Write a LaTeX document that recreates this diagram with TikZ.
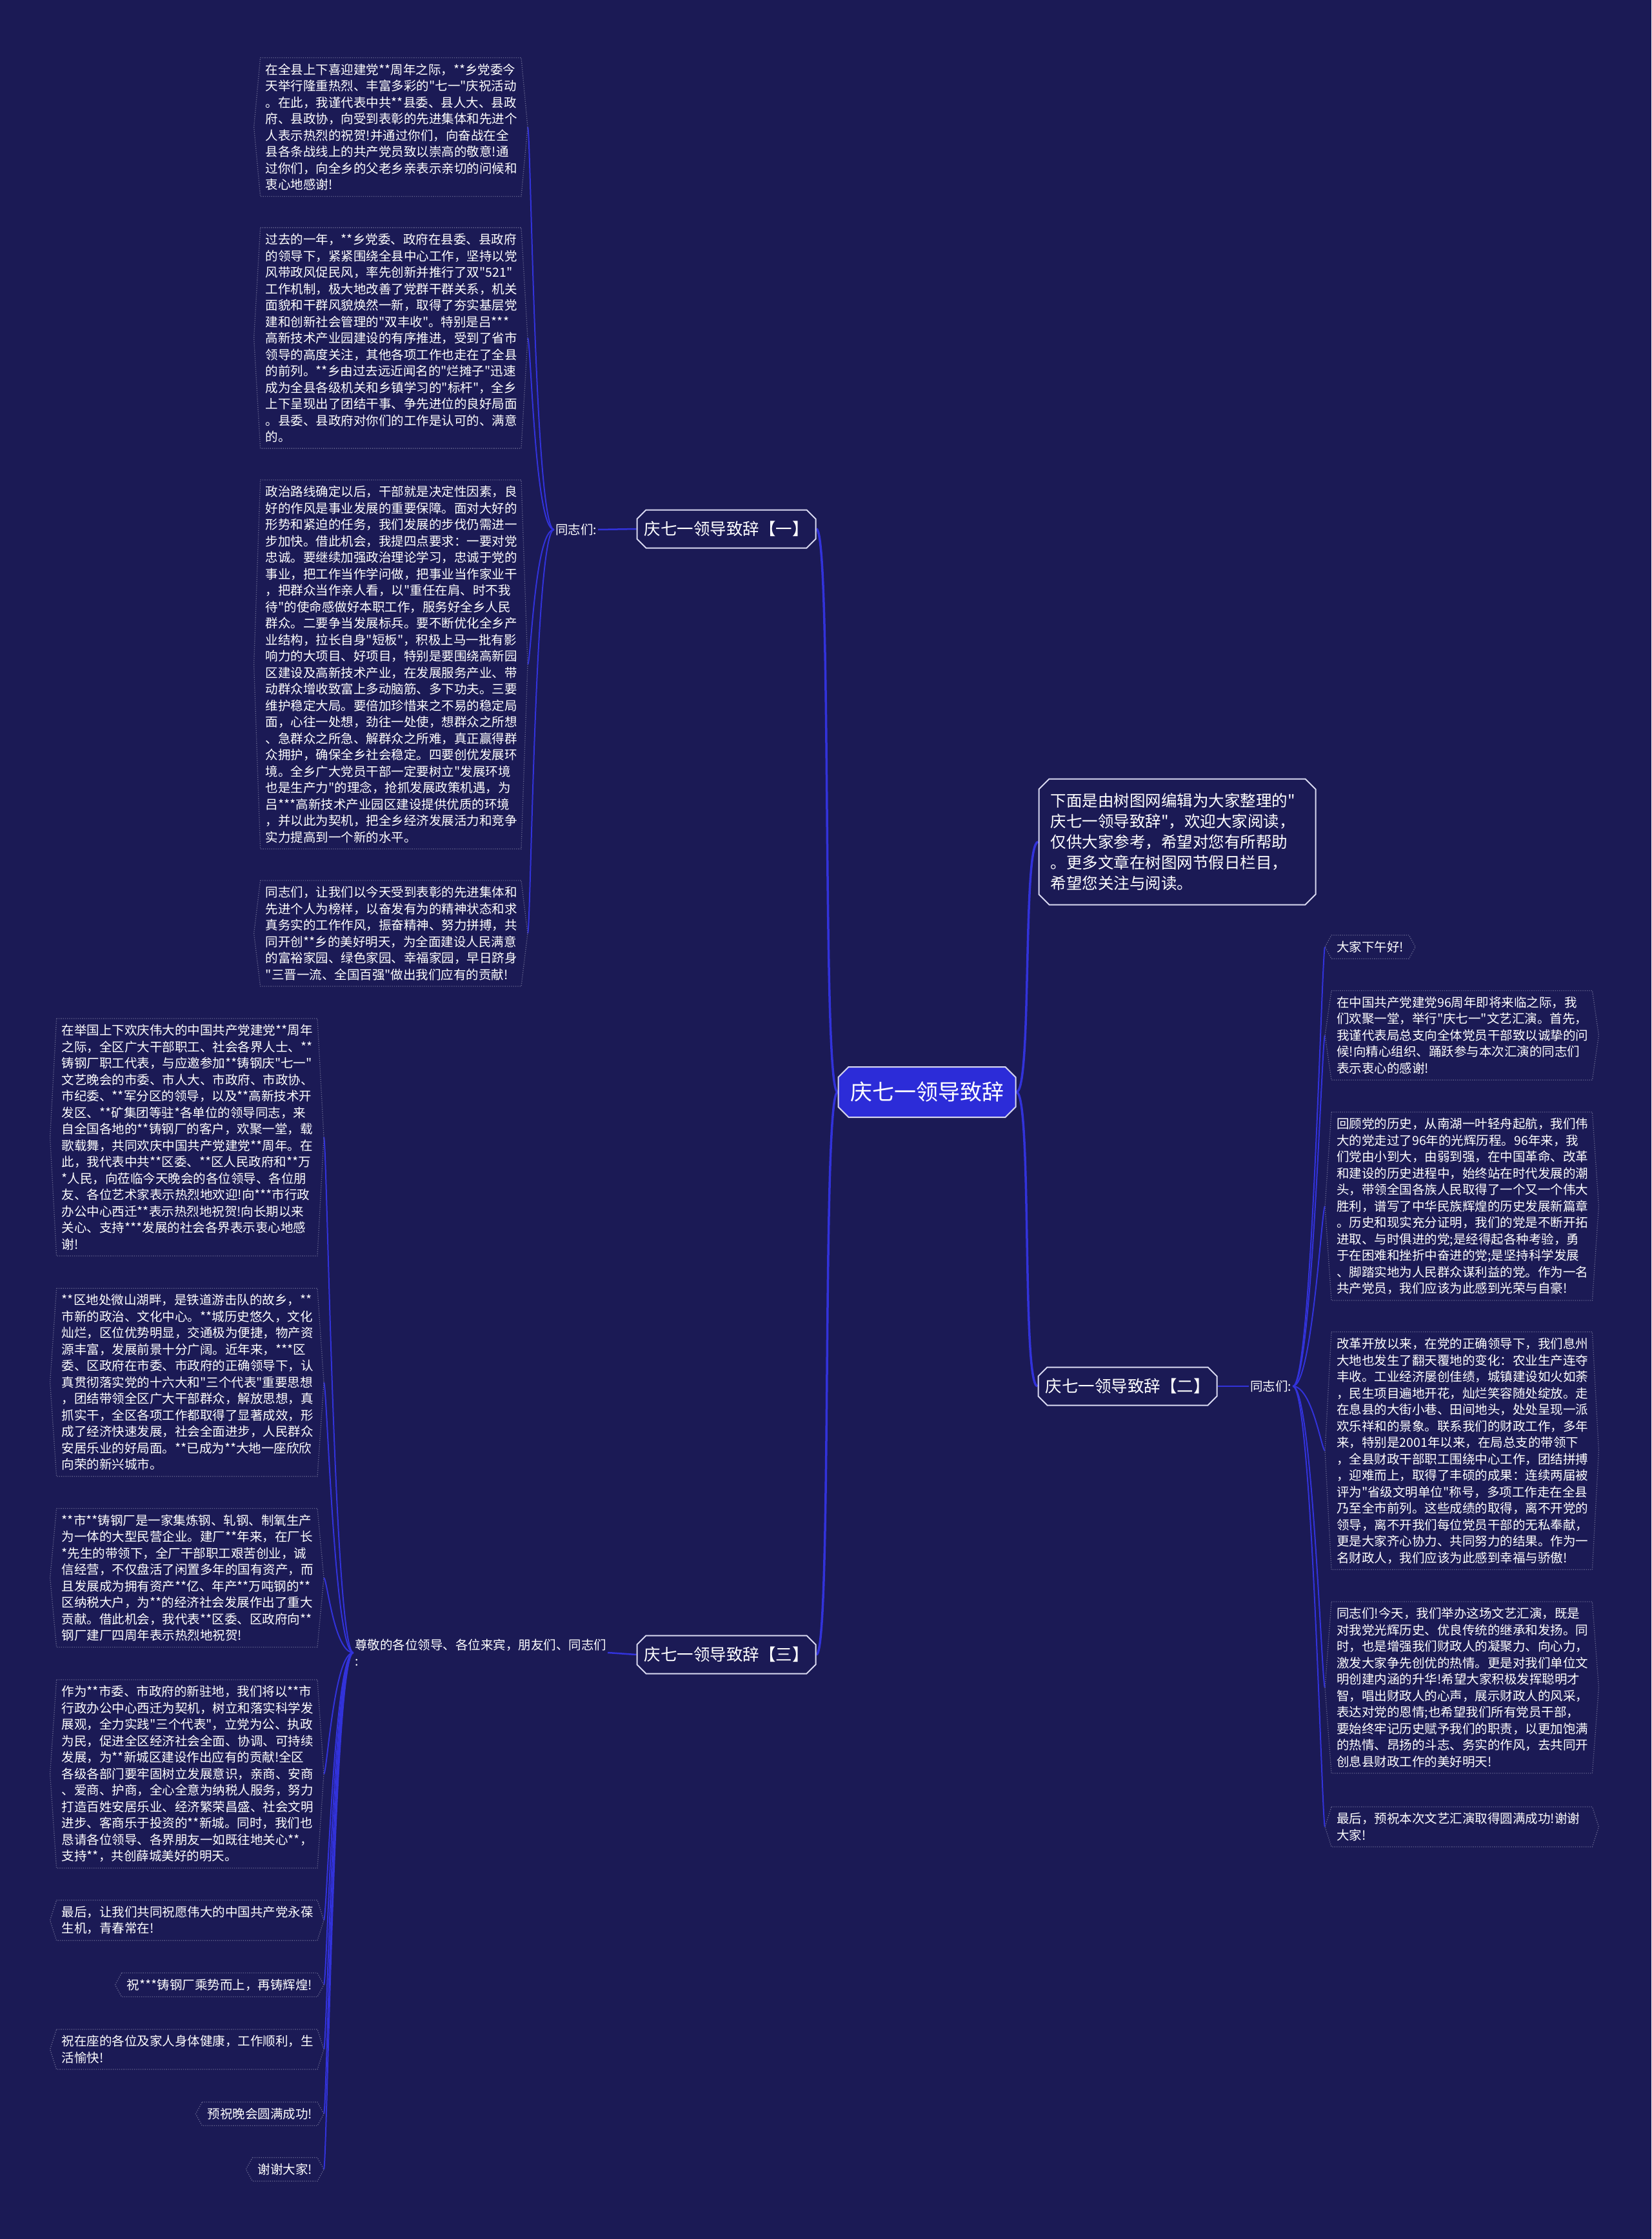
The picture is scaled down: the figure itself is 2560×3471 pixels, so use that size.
\documentclass[tikz,border=0pt]{standalone}
\usepackage{fontspec}
\newfontfamily\cjk{Noto Sans CJK SC}
\usetikzlibrary{shapes.misc}
\definecolor{bgc}{HTML}{1B1A55}
\definecolor{linec}{HTML}{3232DA}
\definecolor{centerfill}{HTML}{2C2CD8}
\definecolor{dotc}{HTML}{62628C}
\definecolor{edgec}{HTML}{D8D8F0}
\pgfdeclarelayer{back}
\pgfdeclarelayer{lines}
\pgfsetlayers{back,lines,main}
\newcommand\hexl[1]{\draw[leafborder] (#1.north west) -- (#1.north east) -- ([xshift=10pt]#1.east) -- (#1.south east) -- (#1.south west) -- ([xshift=-10pt]#1.west) -- cycle;}
\begin{document}
\begin{tikzpicture}[x=1pt,y=-1pt,
  leaftext/.style={font=\cjk\fontsize{19.5}{25.5}\selectfont, text=white, align=left, inner xsep=8pt, inner ysep=9pt},
  wideleaf/.style={leaftext, text width=388pt},
  leafborder/.style={draw=dotc, line width=1.3pt, dotted},
  mainline/.style={draw=linec, line width=3.5pt},
  midline/.style={draw=linec, line width=2.5pt},
  subline/.style={draw=linec, line width=2pt},
  branchbox/.style={chamfered rectangle, chamfered rectangle xsep=7pt, chamfered rectangle ysep=7pt, draw=edgec, line width=2pt, fill=bgc, text=white, font=\cjk\fontsize{25.5}{30}\selectfont, minimum width=277pt, minimum height=59pt, inner sep=0pt},
  centerbox/.style={chamfered rectangle, chamfered rectangle xsep=8pt, chamfered rectangle ysep=8pt, draw=edgec, line width=2pt, fill=centerfill, text=white, font=\cjk\fontsize{34}{40}\selectfont, minimum width=275pt, minimum height=78pt, inner sep=0pt},
  introbox/.style={chamfered rectangle, chamfered rectangle xsep=8pt, chamfered rectangle ysep=8pt, draw=edgec, line width=2pt, fill=bgc, text=white, font=\cjk\fontsize{24.5}{32}\selectfont, text width=393pt, align=left, minimum height=195pt, inner xsep=10pt},
  labeltext/.style={font=\cjk\fontsize{19.5}{25.5}\selectfont, text=white, align=left, inner sep=2pt}
]
\begin{pgfonlayer}{back}
\fill[bgc] (0,0) rectangle (2560,3471);
\end{pgfonlayer}
\useasboundingbox (0,0) rectangle (2560,3471);

% centre and branches
\node[centerbox] (c) at (1437,1693) {庆七一领导致辞};
\node[branchbox] (b1) at (1126,820) {庆七一领导致辞【一】};
\node[branchbox] (b2) at (1748,2149) {庆七一领导致辞【二】};
\node[branchbox] (b3) at (1126,2565) {庆七一领导致辞【三】};
\node[introbox] (intro) at (1825,1305) {下面是由树图网编辑为大家整理的"\\庆七一领导致辞"，欢迎大家阅读，\\仅供大家参考，希望对您有所帮助\\。更多文章在树图网节假日栏目，\\希望您关注与阅读。};

% labels
\node[labeltext] (lab1) at (893,821) {同志们:};
\node[labeltext] (lab2) at (1970,2149) {同志们:};
\node[labeltext] (lab3) at (745,2562) {尊敬的各位领导、各位来宾，朋友们、同志们\\:};

% branch 1 leaves
\node[wideleaf, anchor=east] (a1) at (808,197) {在全县上下喜迎建党**周年之际，**乡党委今\\天举行隆重热烈、丰富多彩的"七一"庆祝活动\\。在此，我谨代表中共**县委、县人大、县政\\府、县政协，向受到表彰的先进集体和先进个\\人表示热烈的祝贺!并通过你们，向奋战在全\\县各条战线上的共产党员致以崇高的敬意!通\\过你们，向全乡的父老乡亲表示亲切的问候和\\衷心地感谢!};
\node[wideleaf, anchor=east] (a2) at (808,524) {过去的一年，**乡党委、政府在县委、县政府\\的领导下，紧紧围绕全县中心工作，坚持以党\\风带政风促民风，率先创新并推行了双"521"\\工作机制，极大地改善了党群干群关系，机关\\面貌和干群风貌焕然一新，取得了夯实基层党\\建和创新社会管理的"双丰收"。特别是吕***\\高新技术产业园建设的有序推进，受到了省市\\领导的高度关注，其他各项工作也走在了全县\\的前列。**乡由过去远近闻名的"烂摊子"迅速\\成为全县各级机关和乡镇学习的"标杆"，全乡\\上下呈现出了团结干事、争先进位的良好局面\\。县委、县政府对你们的工作是认可的、满意\\的。};
\node[wideleaf, anchor=east] (a3) at (808,1030) {政治路线确定以后，干部就是决定性因素，良\\好的作风是事业发展的重要保障。面对大好的\\形势和紧迫的任务，我们发展的步伐仍需进一\\步加快。借此机会，我提四点要求：一要对党\\忠诚。要继续加强政治理论学习，忠诚于党的\\事业，把工作当作学问做，把事业当作家业干\\，把群众当作亲人看，以"重任在肩、时不我\\待"的使命感做好本职工作，服务好全乡人民\\群众。二要争当发展标兵。要不断优化全乡产\\业结构，拉长自身"短板"，积极上马一批有影\\响力的大项目、好项目，特别是要围绕高新园\\区建设及高新技术产业，在发展服务产业、带\\动群众增收致富上多动脑筋、多下功夫。三要\\维护稳定大局。要倍加珍惜来之不易的稳定局\\面，心往一处想，劲往一处使，想群众之所想\\、急群众之所急、解群众之所难，真正赢得群\\众拥护，确保全乡社会稳定。四要创优发展环\\境。全乡广大党员干部一定要树立"发展环境\\也是生产力"的理念，抢抓发展政策机遇，为\\吕***高新技术产业园区建设提供优质的环境\\，并以此为契机，把全乡经济发展活力和竞争\\实力提高到一个新的水平。};
\node[wideleaf, anchor=east] (a4) at (808,1447) {同志们，让我们以今天受到表彰的先进集体和\\先进个人为榜样，以奋发有为的精神状态和求\\真务实的工作作风，振奋精神、努力拼搏，共\\同开创**乡的美好明天，为全面建设人民满意\\的富裕家园、绿色家园、幸福家园，早日跻身\\"三晋一流、全国百强"做出我们应有的贡献!};

% branch 3 leaves
\node[wideleaf, anchor=east] (m1) at (492,1763) {在举国上下欢庆伟大的中国共产党建党**周年\\之际，全区广大干部职工、社会各界人士、**\\铸钢厂职工代表，与应邀参加**铸钢庆"七一"\\文艺晚会的市委、市人大、市政府、市政协、\\市纪委、**军分区的领导，以及**高新技术开\\发区、**矿集团等驻*各单位的领导同志，来\\自全国各地的**铸钢厂的客户，欢聚一堂，载\\歌载舞，共同欢庆中国共产党建党**周年。在\\此，我代表中共**区委、**区人民政府和**万\\**人民，向莅临今天晚会的各位领导、各位朋\\友、各位艺术家表示热烈地欢迎!向***市行政\\办公中心西迁**表示热烈地祝贺!向长期以来\\关心、支持***发展的社会各界表示衷心地感\\谢!};
\node[wideleaf, anchor=east] (m2) at (492,2143) {**区地处微山湖畔，是铁道游击队的故乡，**\\市新的政治、文化中心。**城历史悠久，文化\\灿烂，区位优势明显，交通极为便捷，物产资\\源丰富，发展前景十分广阔。近年来，***区\\委、区政府在市委、市政府的正确领导下，认\\真贯彻落实党的十六大和"三个代表"重要思想\\，团结带领全区广大干部群众，解放思想，真\\抓实干，全区各项工作都取得了显著成效，形\\成了经济快速发展，社会全面进步，人民群众\\安居乐业的好局面。**已成为**大地一座欣欣\\向荣的新兴城市。};
\node[wideleaf, anchor=east] (m3) at (492,2446) {**市**铸钢厂是一家集炼钢、轧钢、制氧生产\\为一体的大型民营企业。建厂**年来，在厂长\\**先生的带领下，全厂干部职工艰苦创业，诚\\信经营，不仅盘活了闲置多年的国有资产，而\\且发展成为拥有资产**亿、年产**万吨钢的**\\区纳税大户，为**的经济社会发展作出了重大\\贡献。借此机会，我代表**区委、区政府向**\\钢厂建厂四周年表示热烈地祝贺!};
\node[wideleaf, anchor=east] (m4) at (492,2750) {作为**市委、市政府的新驻地，我们将以**市\\行政办公中心西迁为契机，树立和落实科学发\\展观，全力实践"三个代表"，立党为公、执政\\为民，促进全区经济社会全面、协调、可持续\\发展，为**新城区建设作出应有的贡献!全区\\各级各部门要牢固树立发展意识，亲商、安商\\、爱商、护商，全心全意为纳税人服务，努力\\打造百姓安居乐业、经济繁荣昌盛、社会文明\\进步、客商乐于投资的**新城。同时，我们也\\恳请各位领导、各界朋友一如既往地关心**，\\支持**，共创薛城美好的明天。};
\node[wideleaf, anchor=east] (m5) at (492,2977) {最后，让我们共同祝愿伟大的中国共产党永葆\\生机，青春常在!};
\node[leaftext, anchor=east] (m6) at (492,3077) {祝***铸钢厂乘势而上，再铸辉煌!};
\node[wideleaf, anchor=east] (m7) at (492,3177) {祝在座的各位及家人身体健康，工作顺利，生\\活愉快!};
\node[leaftext, anchor=east] (m8) at (492,3277) {预祝晚会圆满成功!};
\node[leaftext, anchor=east] (m9) at (492,3363) {谢谢大家!};

% branch 2 leaves
\node[leaftext, anchor=west] (r1) at (2064,1468) {大家下午好!};
\node[wideleaf, anchor=west] (r2) at (2064,1605) {在中国共产党建党96周年即将来临之际，我\\们欢聚一堂，举行"庆七一"文艺汇演。首先，\\我谨代表局总支向全体党员干部致以诚挚的问\\候!向精心组织、踊跃参与本次汇演的同志们\\表示衷心的感谢!};
\node[wideleaf, anchor=west] (r3) at (2064,1870) {回顾党的历史，从南湖一叶轻舟起航，我们伟\\大的党走过了96年的光辉历程。96年来，我\\们党由小到大，由弱到强，在中国革命、改革\\和建设的历史进程中，始终站在时代发展的潮\\头，带领全国各族人民取得了一个又一个伟大\\胜利，谱写了中华民族辉煌的历史发展新篇章\\。历史和现实充分证明，我们的党是不断开拓\\进取、与时俱进的党;是经得起各种考验，勇\\于在困难和挫折中奋进的党;是坚持科学发展\\、脚踏实地为人民群众谋利益的党。作为一名\\共产党员，我们应该为此感到光荣与自豪!};
\node[wideleaf, anchor=west] (r4) at (2064,2249) {改革开放以来，在党的正确领导下，我们息州\\大地也发生了翻天覆地的变化：农业生产连夺\\丰收。工业经济屡创佳绩，城镇建设如火如荼\\，民生项目遍地开花，灿烂笑容随处绽放。走\\在息县的大街小巷、田间地头，处处呈现一派\\欢乐祥和的景象。联系我们的财政工作，多年\\来，特别是2001年以来，在局总支的带领下\\，全县财政干部职工围绕中心工作，团结拼搏\\，迎难而上，取得了丰硕的成果：连续两届被\\评为"省级文明单位"称号，多项工作走在全县\\乃至全市前列。这些成绩的取得，离不开党的\\领导，离不开我们每位党员干部的无私奉献，\\更是大家齐心协力、共同努力的结果。作为一\\名财政人，我们应该为此感到幸福与骄傲!};
\node[wideleaf, anchor=west] (r5) at (2064,2616) {同志们!今天，我们举办这场文艺汇演，既是\\对我党光辉历史、优良传统的继承和发扬。同\\时，也是增强我们财政人的凝聚力、向心力，\\激发大家争先创优的热情。更是对我们单位文\\明创建内涵的升华!希望大家积极发挥聪明才\\智，唱出财政人的心声，展示财政人的风采，\\表达对党的恩情;也希望我们所有党员干部，\\要始终牢记历史赋予我们的职责，以更加饱满\\的热情、昂扬的斗志、务实的作风，去共同开\\创息县财政工作的美好明天!};
\node[wideleaf, anchor=west] (r6) at (2064,2832) {最后，预祝本次文艺汇演取得圆满成功!谢谢\\大家!};

% leaf borders
\foreach \n in {a1,a2,a3,a4,m1,m2,m3,m4,m5,m6,m7,m8,m9,r1,r2,r3,r4,r5,r6} {\hexl{\n}}

\begin{pgfonlayer}{lines}
% centre to branches
\draw[mainline] (c.west) .. controls +(-25,0) and +(25,0) .. (b1.east);
\draw[mainline] (c.west) .. controls +(-25,0) and +(25,0) .. (b3.east);
\draw[mainline] (c.east) .. controls +(25,0) and +(-25,0) .. (intro.west);
\draw[mainline] (c.east) .. controls +(25,0) and +(-25,0) .. (b2.west);
% branches to labels
\draw[midline] (b1.west) -- (lab1.east);
\draw[midline] (b2.east) -- (lab2.west);
\draw[midline] (b3.west) -- (lab3.east);
% labels to leaves
\foreach \n in {a1,a2,a3,a4} {\draw[subline] (lab1.west) .. controls +(-30,0) and +(5,0) .. ([xshift=10pt]\n.east);}
\foreach \n in {m1,m2,m3,m4,m5,m6,m7,m8,m9} {\draw[subline] (lab3.west) .. controls +(-30,0) and +(5,0) .. ([xshift=10pt]\n.east);}
\foreach \n in {r1,r2,r3,r4,r5,r6} {\draw[subline] (lab2.east) .. controls +(30,0) and +(-5,0) .. ([xshift=-10pt]\n.west);}
\end{pgfonlayer}
\end{tikzpicture}
\end{document}
